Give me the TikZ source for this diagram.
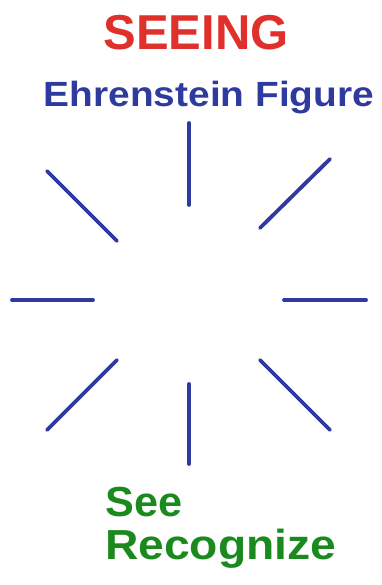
\documentclass[tikz,border=0pt]{standalone}
\usepackage{fontspec}
\setmainfont{Liberation Sans}
\usepackage{tikz}
\usetikzlibrary{positioning}
\definecolor{seeingred}{HTML}{E0302C}
\definecolor{ehrblue}{HTML}{2F3A9E}
\definecolor{seegreen}{HTML}{1B8A1E}
\newcommand{\widetext}[2]{\scalebox{#1}[1]{#2}}
\tikzset{
  ehrline/.style={draw=ehrblue, line width=3.8pt, line cap=round},
  bigtext/.style={inner sep=0pt, font=\bfseries}
}

\begin{document}
\begin{tikzpicture}[x=1pt, y=1pt]
    \useasboundingbox (0,0) rectangle (381,585);

    % Titles
    \node[bigtext, text=seeingred, anchor=base, font=\bfseries\fontsize{49}{56}\selectfont] (seeing) at (196,535) {SEEING};
    \node[bigtext, text=ehrblue, anchor=base, font=\bfseries\fontsize{35}{42}\selectfont] (ehrenstein) at (209,478) {\widetext{1.11}{Ehrenstein Figure}};

    % Eight strokes round an empty centre
    \foreach \ax/\ay/\bx/\by in {189/462/189/380, 189/201/189/121,
                                 12/285/93/285, 284/285/366/285,
                                 47/414/117/344, 260/357/330/426,
                                 47/155/117/225, 260/225/330/155} {
      \draw[ehrline] (\ax,\ay) -- (\bx,\by);
    }

    % Bottom words
    \node[bigtext, text=seegreen, anchor=base west, font=\bfseries\fontsize{42}{50}\selectfont] (see) at (105,68) {\widetext{1.03}{See}};
    \node[bigtext, text=seegreen, anchor=base west, font=\bfseries\fontsize{42}{50}\selectfont] (recognize) at (105,25) {\widetext{1.1}{Recognize}};
  \end{tikzpicture}
\end{document}
